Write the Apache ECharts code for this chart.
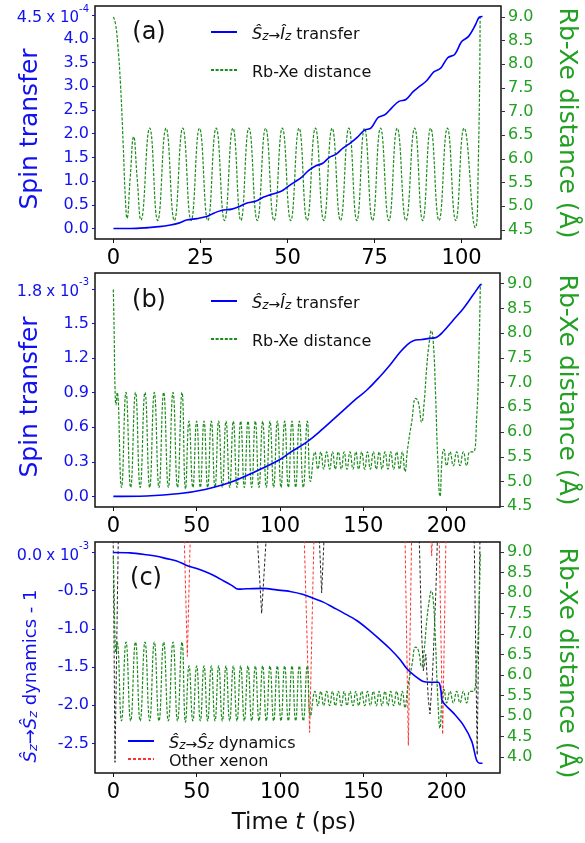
<!DOCTYPE html>
<html><head><meta charset="utf-8">
<script src="https://cdn.jsdelivr.net/npm/echarts@6/dist/echarts.min.js"></script>
<style>html,body{margin:0;padding:0;background:#fff}#c{width:585px;height:843px}</style>
</head><body><div id="c"></div>
<script>
// ---------- data ----------
const xTicksA = [0, 25, 50, 75, 100];
const xTicksBC = [0, 50, 100, 150, 200];
const yTicksA = [0, 0.5, 1.0, 1.5, 2.0, 2.5, 3.0, 3.5, 4.0, 4.5];          // x1e-4
const yTicksB = [0, 0.3, 0.6, 0.9, 1.2, 1.5, 1.8];                          // x1e-3
const yTicksC = [-2.5, -2.0, -1.5, -1.0, -0.5, 0.0];                        // x1e-3
const rTicksAB = [4.5, 5.0, 5.5, 6.0, 6.5, 7.0, 7.5, 8.0, 8.5, 9.0];
const rTicksC = [4.0, 4.5, 5.0, 5.5, 6.0, 6.5, 7.0, 7.5, 8.0, 8.5, 9.0];

// (a) spin transfer (x1e-4) vs time (ps)
const transA = [[0,0],[5,0.0],[10,0.02],[13,0.04],[16,0.07],[19,0.12],[21,0.18],[24,0.21],[27,0.26],[29,0.33],[31,0.38],[34,0.41],[36,0.46],[38,0.53],[41,0.58],[43,0.66],[45,0.71],[48,0.78],[50,0.88],[52,0.98],[54,1.08],[56,1.22],[58,1.32],[60,1.37],[62,1.5],[64,1.57],[66,1.7],[68,1.80],[70,1.92],[72,2.07],[74,2.12],[76,2.34],[78,2.40],[80,2.55],[82,2.68],[84,2.72],[86,2.88],[88,3.0],[90,3.12],[92,3.30],[94,3.38],[96,3.6],[98,3.67],[100,3.94],[102,4.05],[104,4.3],[105,4.45],[106,4.47]];
// (a) Rb-Xe distance (Å)
const distA = [[0,9.0],[0.6,8.85],[1.2,8.45],[2,7.6],[2.8,6.3],[3.4,5.2],[3.9,4.75],[4.8,5.6],[5.8,6.47],[6.8,5.6],[7.9,4.71],
[10.4,6.65],[12.7,4.7],[15.1,6.65],[17.5,4.7],[19.9,6.65],[22.3,4.7],[24.7,6.65],[27.1,4.7],[29.5,6.65],[31.9,4.7],[34.3,6.65],[36.6,4.7],[38.9,6.65],[41.3,4.7],[43.7,6.65],[46.1,4.7],[48.5,6.65],[50.9,4.7],[53.3,6.65],[55.6,4.7],[58.0,6.65],[60.4,4.7],[62.8,6.65],[65.2,4.7],[67.6,6.65],[69.9,4.7],[72.1,6.65],[74.4,4.7],[76.7,6.65],[79.1,4.7],[81.5,6.65],[84.0,4.7],[86.5,6.65],[88.8,4.7],[91.1,6.65],[93.5,4.7],[95.9,6.65],[98.3,4.7],[100.7,6.65],[103.9,4.55],[104.8,6.0],[105.3,9.0]];

// (b) spin transfer (x1e-3)
const transB = [[0,0],[20,0.004],[40,0.025],[55,0.06],[70,0.12],[86,0.22],[100,0.32],[106,0.38],[116,0.47],[126,0.59],[136,0.72],[146,0.85],[152,0.92],[160,1.04],[166,1.14],[172,1.25],[176,1.31],[180,1.35],[185,1.36],[190,1.37],[194,1.38],[198,1.43],[204,1.53],[210,1.63],[216,1.75],[220,1.83],[221,1.84]];
// (b),(c) Rb-Xe distance (Å)
const distB = [[0,8.88],[0.5,8.0],[1,6.9],[1.6,6.55],[2.3,6.8],[4.9,4.88],[7.6,6.8],[10.4,4.88],[13.3,6.8],[16.1,4.88],[19,6.8],[21.8,4.88],[24.6,6.8],[27.4,4.88],[30.2,6.8],[33,4.88],[35.8,6.8],[38.5,4.88],[41.2,6.8],[43.3,4.85],
[45.4,6.22],[47.7,4.88],[50,6.22],[52.2,4.88],[54.4,6.22],[56.6,4.88],[58.8,6.22],[61,4.88],[63.2,6.22],[65.4,4.88],[67.6,6.22],[69.8,4.88],[72,6.22],[74.2,4.88],[76.4,6.22],[78.6,4.88],[80.8,6.22],[83,4.88],[85.2,6.22],[87.4,4.88],[89.6,6.22],[91.8,4.88],[94,6.22],[96.2,4.88],[98.4,6.22],[100.6,4.88],[102.8,6.22],[105,4.88],[107.2,6.22],[109.4,4.88],[111.6,6.22],[114,4.88],[116.4,6.22],[118.3,5.0],
[121,5.6],[122.7,5.25],[124.5,5.6],[126.2,5.25],[128,5.6],[129.8,5.25],[131.5,5.6],[133.2,5.25],[135,5.6],[136.8,5.25],[138.5,5.6],[140.2,5.25],[142,5.6],[143.8,5.25],[145.5,5.6],[147.2,5.25],[149,5.6],[150.8,5.25],[152.5,5.6],[154.2,5.25],[156,5.6],[157.8,5.25],[159.5,5.6],[161.2,5.25],[163,5.6],[164.8,5.25],[166.4,5.6],[168.2,5.25],[170,5.6],[171.7,5.25],[173.4,5.6],[175,5.2],
[176.5,5.65],[179,6.2],[181.5,6.68],[183,6.6],[185,6.2],[186.5,6.6],[188,7.3],[189.5,7.8],[190.8,8.05],[192,7.8],[193.3,6.8],[194.6,5.5],[196,4.7],[197.3,5.5],[198.3,5.65],
[200,5.32],[202,5.6],[204,5.32],[206,5.6],[208,5.32],[210,5.6],[212,5.32],[214,5.6],[216,5.6],[218,6.3],[219.3,7.5],[220.2,9.0]];

// (c) Sz->Sz dynamics - 1 (x1e-3)
const dynC = [[0,0],[10,-0.005],[20,-0.03],[26,-0.05],[32,-0.08],[38,-0.11],[44,-0.17],[50,-0.21],[56,-0.26],[62,-0.32],[66,-0.37],[71,-0.43],[75,-0.48],[80,-0.475],[90,-0.47],[98,-0.49],[106,-0.51],[114,-0.55],[120,-0.6],[126,-0.65],[132,-0.72],[138,-0.79],[146,-0.89],[152,-0.99],[160,-1.14],[166,-1.26],[172,-1.4],[176,-1.52],[180,-1.6],[186,-1.69],[190,-1.70],[195,-1.70],[196.5,-1.8],[197.5,-1.95],[204,-2.10],[210,-2.26],[215,-2.47],[218,-2.72],[220,-2.76],[221.5,-2.76]];
// (c) other xenon distances (Å)
const redSegs = [
  [[42.5,9.4],[44.4,6.45],[46.2,9.4]],
  [[114.5,9.4],[117.8,4.6],[120.4,9.4]],
  [[175,9.4],[177,4.28],[179,9.4]],
  [[190.5,9.4],[191,8.9],[191.5,9.4]],
  [[195.5,9.4],[197.6,4.55],[199.6,9.4]]
];
const blackSegs = [
  [[-0.1,9.4],[1.0,3.87],[3.0,9.4]],
  [[86.3,9.4],[89,7.5],[91.8,9.4]],
  [[123.5,9.4],[125,8.0],[126.5,9.4]],
  [[183.5,9.4],[185,7.0],[186,6.1],[187.5,6.5],[189,5.4],[190,5.05],[191.5,6.0],[193.5,8.0],[194.5,9.4]],
  [[216.5,9.4],[218.3,4.05],[220,9.4]]
];

// ---------- style ----------
const FONT = '"DejaVu Sans","Noto Sans",sans-serif';
const BLUE = '#0000ff', BLUET = '#1010f0', GREEN = '#1a8c1a', GREENT = '#22a022';

const chart = echarts.init(document.getElementById('c'), null, {renderer:'canvas'});

const grids = [
  {left:95, top:6, width:406, height:233},
  {left:95, top:273, width:405, height:234},
  {left:95, top:542, width:405, height:231}
].map(g => Object.assign(g, {show:true, borderColor:'#111', borderWidth:1.5, backgroundColor:'transparent'}));

function xAx(i, min, max, ticks){
  return {type:'value', gridIndex:i, position:'bottom', min, max, splitLine:{show:false}, axisLine:{show:false, onZero:false},
    axisTick:{show:true, inside:false, length:4, customValues:ticks, lineStyle:{color:'#111'}},
    axisLabel:{customValues:ticks, fontSize:21, color:'#000', fontFamily:FONT, margin:9, formatter:v=>String(v)}};
}
const supRich = {
  n:{fontSize:16, color:BLUET, fontFamily:FONT, lineHeight:22, verticalAlign:'bottom'},
  x:{fontSize:15, color:BLUET, fontFamily:FONT, lineHeight:22, verticalAlign:'bottom', padding:[0,0,0,4]},
  e:{fontSize:10, color:BLUET, fontFamily:FONT, lineHeight:12, verticalAlign:'top'}
};
function yLeft(i, min, max, ticks, topVal, exp){
  return {type:'value', gridIndex:i, position:'left', min, max, splitLine:{show:false}, axisLine:{show:false, onZero:false},
    axisTick:{show:true, inside:false, length:3, customValues:ticks, lineStyle:{color:BLUET}},
    axisLabel:{customValues:ticks, fontSize:16, color:BLUET, fontFamily:FONT, margin:6, rich:supRich,
      formatter:v => Math.abs(v-topVal)<1e-9 ? '{n|'+v.toFixed(1)+'}{x|x 10}{e|'+exp+'}' : v.toFixed(1)}};
}
function yRight(i, min, max, ticks){
  return {type:'value', gridIndex:i, position:'right', min, max, splitLine:{show:false}, axisLine:{show:false, onZero:false},
    axisTick:{show:true, inside:false, length:4, customValues:ticks, lineStyle:{color:'#333'}},
    axisLabel:{customValues:ticks, fontSize:16, color:GREENT, fontFamily:FONT, margin:7, formatter:v=>v.toFixed(1)}};
}

const xAxis = [xAx(0,-5.3,111.3,xTicksA), xAx(1,-11,232,xTicksBC), xAx(2,-11,232,xTicksBC)];
const yAxis = [
  yLeft(0,-0.22,4.69,yTicksA,4.5,'-4'), yRight(0,4.31,9.23,rTicksAB),
  yLeft(1,-0.092,1.937,yTicksB,1.8,'-3'), yRight(1,4.485,9.215,rTicksAB),
  yLeft(2,-2.8875,0.1375,yTicksC,0.0,'-3'), yRight(2,3.61,9.24,rTicksC)
];

function line(name, xi, yi, data, color, width, dash, smooth){
  return {type:'line', name, xAxisIndex:xi, yAxisIndex:yi, data, showSymbol:false, symbol:'none',
    smooth, clip:true, animation:false, silent:true,
    lineStyle:{color, width, type:dash || 'solid'}, itemStyle:{color}};
}
const GDASH = [3,1.6];
const series = [
  line('dA',0,1,distA,GREEN,1.2,GDASH,0.5),
  line('tA',0,0,transA,BLUE,1.6,null,0.35),
  line('dB',1,3,distB,GREEN,1.2,GDASH,0.5),
  line('tB',1,2,transB,BLUE,1.6,null,0.4),
];
redSegs.forEach(s => series.push(line('oC',2,5,s,'#ff3030',1,[3,2],false)));
blackSegs.forEach(s => series.push(line('oC2',2,5,s,'#222',1,[3,2],false)));
series.push(line('dC',2,5,distB,GREEN,1.2,GDASH,0.5));
series.push(line('tC',2,4,dynC,BLUE,1.6,null,0.3));

const legRich = {
  s:{fontSize:16, fontStyle:'italic', fontFamily:FONT, color:'#111', lineHeight:22, verticalAlign:'bottom'},
  z:{fontSize:12, fontStyle:'italic', fontFamily:FONT, color:'#111', lineHeight:12, verticalAlign:'bottom'},
  a:{fontSize:14, fontFamily:FONT, color:'#111', lineHeight:22, verticalAlign:'bottom'},
  t:{fontSize:16, fontFamily:FONT, color:'#111', lineHeight:22, verticalAlign:'bottom'}
};
const legNames = {
  tA:'{s|Ŝ}{z|z}{a|→}{s|Î}{z|z}{t| transfer}', dA:'{t|Rb-Xe distance}',
  tB:'{s|Ŝ}{z|z}{a|→}{s|Î}{z|z}{t| transfer}', dB:'{t|Rb-Xe distance}',
  tC:'{s|Ŝ}{z|z}{a|→}{s|Ŝ}{z|z}{t| dynamics}', oC:'{t|Other xenon}'
};
function legend(names, left, top, gap){
  return {data:names, left, top, orient:'vertical', itemWidth:26, itemHeight:12, itemGap:gap,
    itemStyle:{opacity:0},
    formatter:n=>legNames[n],
    textStyle:{fontSize:16, color:'#111', fontFamily:FONT, padding:[0,0,0,10], rich:legRich}};
}

const titleTxt = (x,y,text,color,size,rot,rich) => ({type:'text', x, y, rotation:rot, silent:true,
  style:{text, fill:color, font:size+'px '+FONT, align:'center', verticalAlign:'middle', rich}});

const dynRich = {
  h:{fontSize:18, fontStyle:'italic', fontFamily:FONT, fill:BLUET, lineHeight:24, verticalAlign:'bottom'},
  z:{fontSize:13, fontStyle:'italic', fontFamily:FONT, fill:BLUET, lineHeight:13, verticalAlign:'bottom'},
  r:{fontSize:18, fontFamily:FONT, fill:BLUET, lineHeight:24, verticalAlign:'bottom'}
};

const graphic = [
  titleTxt(149,33,'(a)','#111',24,0),
  titleTxt(149,301,'(b)','#111',24,0),
  titleTxt(146,579,'(c)','#111',24,0),
  titleTxt(30,129,'Spin transfer',BLUET,25,Math.PI/2),
  titleTxt(30,397,'Spin transfer',BLUET,25,Math.PI/2),
  titleTxt(28,676,'{h|Ŝ}{z|z}{r|→}{h|Ŝ}{z|z}{r| dynamics - 1}',BLUET,18,Math.PI/2,dynRich),
  titleTxt(566,123,'Rb-Xe distance (Å)',GREENT,25,-Math.PI/2),
  titleTxt(566,390,'Rb-Xe distance (Å)',GREENT,25,-Math.PI/2),
  titleTxt(566,663,'Rb-Xe distance (Å)',GREENT,25,-Math.PI/2),
  titleTxt(294,823,'Time {i|t} (ps)','#111',23,0,{i:{fontSize:23, fontStyle:'italic', fontFamily:FONT, fill:'#111'}})
];

chart.setOption({
  animation:false,
  grid:grids, xAxis, yAxis, series,
  legend:[
    legend(['tA','dA'],205,22,22),
    legend(['tB','dB'],205,291,22),
    legend(['tC','oC'],122,731,2)
  ],
  graphic
});
</script>
</body></html>
